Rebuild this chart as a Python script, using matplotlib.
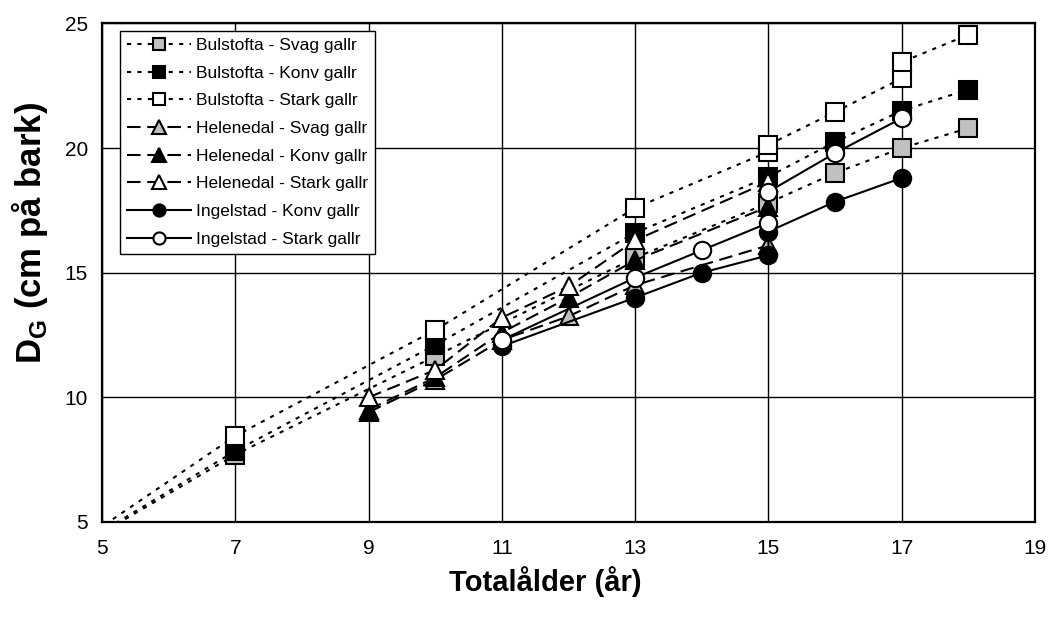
import matplotlib
matplotlib.use('Agg')
import matplotlib.pyplot as plt

# Bulstofta (first point at age 4 lies outside the visible range)
bul_age = [4, 7, 10, 13, 15, 16, 17, 18]
bul_svag = [3.0, 7.7, 11.65, 15.6, 17.8, 19.0, 20.0, 20.8]
bul_konv = [3.0, 7.85, 12.1, 16.6, 18.85, 20.25, 21.5, 22.35]
bul_stark_age = [4, 7, 10, 13, 15, 15, 16, 17, 17, 18]
bul_stark = [3.0, 8.45, 12.7, 17.6, 19.85, 20.13, 21.45, 22.8, 23.45, 24.55]

# Helenedal
hel_age = [9, 10, 11, 12, 13, 15]
hel_svag = [9.4, 10.7, 12.3, 13.25, 14.5, 16.1]
hel_konv = [9.5, 10.8, 12.6, 14.0, 15.5, 17.65]
hel_stark = [10.0, 11.1, 13.2, 14.45, 16.3, 18.65]

# Ingelstad
ing_age = [11, 13, 14, 15, 15, 16, 17]
ing_konv = [12.05, 14.0, 15.0, 15.7, 16.65, 17.85, 18.8]
ing_stark = [12.3, 14.8, 15.9, 17.0, 18.25, 19.8, 21.2]

labels = ['Bulstofta - Svag gallr', 'Bulstofta - Konv gallr', 'Bulstofta - Stark gallr',
          'Helenedal - Svag gallr', 'Helenedal - Konv gallr', 'Helenedal - Stark gallr',
          'Ingelstad - Konv gallr', 'Ingelstad - Stark gallr']

x_ticks = [5, 7, 9, 11, 13, 15, 17, 19]
y_ticks = [5, 10, 15, 20, 25]


def main():
    plt.rcParams['font.family'] = ['Liberation Sans', 'DejaVu Sans']
    plt.rcParams['mathtext.fontset'] = 'custom'
    plt.rcParams['mathtext.rm'] = 'Liberation Sans:bold'
    plt.rcParams['mathtext.bf'] = 'Liberation Sans:bold'

    fig = plt.figure(figsize=(10.49, 6.17), dpi=100)
    ax = fig.add_axes([0.0972, 0.154, 0.8895, 0.808])

    gray = '#c0c0c0'
    dot = (0, (2.0, 3.0))
    dash = (0, (6.5, 3.2))
    ms = 12.5

    series = [
        (bul_age, bul_svag, dot, 's', gray),
        (bul_age, bul_konv, dot, 's', 'black'),
        (bul_stark_age, bul_stark, dot, 's', 'white'),
        (hel_age, hel_svag, dash, '^', gray),
        (hel_age, hel_konv, dash, '^', 'black'),
        (hel_age, hel_stark, dash, '^', 'white'),
        (ing_age, ing_konv, '-', 'o', 'black'),
        (ing_age, ing_stark, '-', 'o', 'white'),
    ]

    for i, (xs, ys, ls, mk, fc) in enumerate(series):
        ax.plot(xs, ys, color='black', linestyle=ls, linewidth=1.5,
                marker=mk, markersize=ms if mk != '^' else ms + 1,
                markerfacecolor=fc, markeredgecolor='black',
                markeredgewidth=1.5, label=labels[i], zorder=3 + i)

    ax.set_xlim(5, 19)
    ax.set_ylim(5, 25)
    ax.set_xticks(x_ticks)
    ax.set_yticks(y_ticks)
    ax.tick_params(length=0, labelsize=15)
    ax.tick_params(axis='x', pad=12)
    ax.tick_params(axis='y', pad=10)
    ax.grid(True, color='black', linewidth=1.0)
    ax.set_axisbelow(True)
    for sp in ax.spines.values():
        sp.set_linewidth(1.6)

    ax.set_xlabel('Totalålder (år)', fontsize=21, fontweight='bold')
    ax.set_ylabel(r'D$_\mathrm{G}$ (cm på bark)', fontsize=25, fontweight='bold')
    ax.xaxis.set_label_coords(0.475, -0.088)
    ax.yaxis.set_label_coords(-0.056, 0.58)

    leg = ax.legend(loc='upper left', bbox_to_anchor=(0.019, 0.985), borderaxespad=0,
                    fontsize=12.5, fancybox=False, framealpha=1, edgecolor='black',
                    markerscale=0.7, handlelength=3.7, labelspacing=0.72,
                    borderpad=0.4, handletextpad=0.3)
    leg.get_frame().set_linewidth(1.0)
    leg.set_zorder(20)

    fig.savefig('out.png', dpi=100)


if __name__ == "__main__":
    main()
